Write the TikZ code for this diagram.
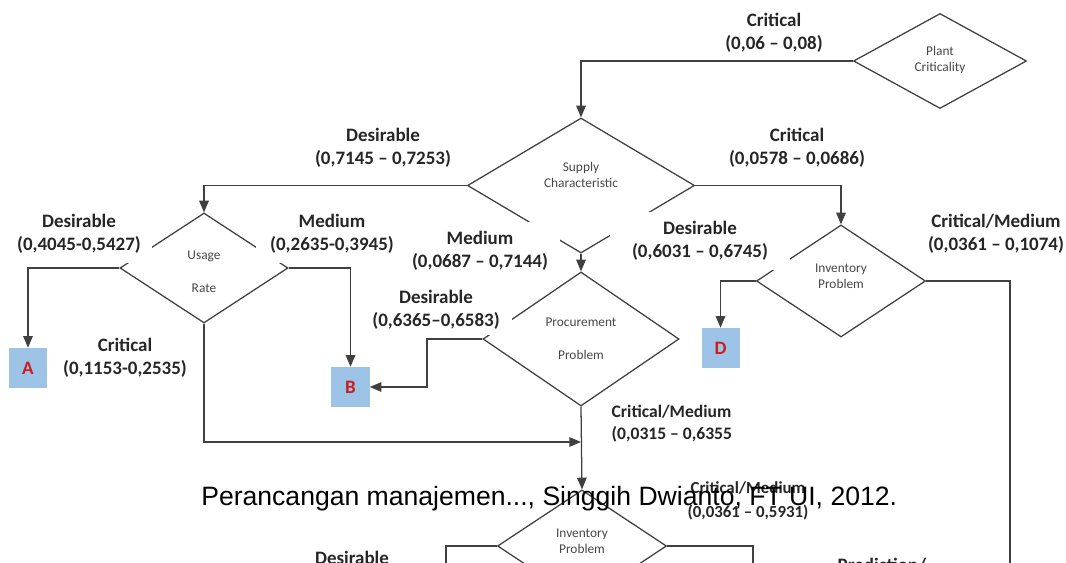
\documentclass[tikz,border=0pt]{standalone}
\usepackage{fontspec}
\setmainfont{Carlito}
\newfontfamily\footfont{Liberation Sans}
\usetikzlibrary{arrows,shapes.geometric}

\definecolor{linegray}{RGB}{64,64,64}
\definecolor{txtgray}{RGB}{38,38,38}
\definecolor{boxblue}{RGB}{157,195,230}
\definecolor{classred}{RGB}{200,30,30}

\begin{document}
\begin{tikzpicture}[x=0.025cm,y=-0.025cm,>=triangle 45,
  decision/.style={diamond,draw=linegray,line width=0.9pt,inner sep=0pt},
  dtext/.style={align=center,text=black!72,font=\fontsize{9.5}{11.5}\selectfont},
  rangetxt/.style={fill=white,inner sep=1pt,align=center,text=txtgray,font=\fontsize{13.5}{16.5}\selectfont\bfseries},
  classbox/.style={fill=boxblue,minimum width=0.95cm,minimum height=1cm,inner sep=0pt,text=classred,font=\fontsize{13.5}{16}\selectfont\bfseries},
  flow/.style={draw=linegray,line width=0.9pt}]
\useasboundingbox (0,0) rectangle (1066,563);

% decisions
\node[decision,minimum width=4.325cm,minimum height=2.375cm] (plant) at (940,61) {};
\node[decision,minimum width=5.675cm,minimum height=3.375cm] (supply) at (581,185.5) {};
\node[decision,minimum width=4.2cm,minimum height=2.75cm] (usage) at (204,268) {};
\node[decision,minimum width=4.9cm,minimum height=3.35cm] (proc) at (581,339) {};
\node[decision,minimum width=4.225cm,minimum height=2.8cm] (inv) at (841,281) {};
\node[decision,minimum width=4.225cm,minimum height=2.8cm] (invb) at (582,546) {};

\node[dtext] (planttxt) at (940,60) {Plant\\Criticality};
\node[dtext] (supplytxt) at (581,175) {Supply\\Characteristic};
\node[dtext] (usagetxt) at (204,271.5) {Usage\\[12pt]Rate};
\node[dtext] (proctxt) at (581,338.5) {Procurement\\[12pt]Problem};
\node[dtext] (invtxt) at (841,276) {Inventory\\Problem};
\node[dtext] (invbtxt) at (582,541.5) {Inventory\\Problem};

% classes
\node[classbox] (boxA) at (28,368) {A};
\node[classbox] (boxB) at (350.5,387) {B};
\node[classbox] (boxD) at (720.5,348) {D};

% connectors
\coordinate (bturn) at (427,339);
\coordinate (join) at (581,442);
\coordinate (critdown) at (1010,600);
\coordinate (desdown) at (446,600);
\coordinate (preddown) at (753,600);

\draw[flow,->] (plant.west) -| (supply.north);
\draw[flow,->] (supply.west) -| (usage.north);
\draw[flow,->] (supply.east) -| (inv.north);
\draw[flow,->] (supply.south) -- (proc.north);
\draw[flow,->] (usage.west) -| (boxA.north);
\draw[flow,->] (usage.east) -| (boxB.north);
\draw[flow,->] (proc.west) -- (bturn) |- (boxB.east);
\draw[flow,->] (usage.south) |- (join);
\draw[flow,->] (proc.south) -- (invb.north);
\draw[flow,->] (inv.west) -| (boxD.north);
\draw[flow] (inv.east) -| (critdown);
\draw[flow] (invb.west) -| (desdown);
\draw[flow] (invb.east) -| (preddown);

% ranges
\node[rangetxt] (plantcrit) at (774,33) {Critical\\(0,06 -- 0,08)};
\node[rangetxt] (supdes) at (383,148) {Desirable\\(0,7145 -- 0,7253)};
\node[rangetxt] (supcrit) at (797,148) {Critical\\(0,0578 -- 0,0686)};
\node[rangetxt,minimum width=4cm,minimum height=1.45cm] (supmed) at (480,251) {Medium\\(0,0687 -- 0,7144)};
\node[rangetxt,minimum width=4.5cm,minimum height=1.45cm] (supdesb) at (700,241) {Desirable\\(0,6031 -- 0,6745)};
\node[rangetxt,minimum width=3.65cm,minimum height=1.45cm] (usgdes) at (79,234) {Desirable\\(0,4045-0,5427)};
\node[rangetxt,minimum width=3.8cm,minimum height=1.45cm] (usgmed) at (332,234) {Medium\\(0,2635-0,3945)};
\node[rangetxt] (usgcrit) at (125,358) {Critical\\(0,1153-0,2535)};
\node[rangetxt,minimum width=3.8cm,minimum height=1.25cm] (procdes) at (436,310) {Desirable\\(0,6365--0,6583)};
\node[rangetxt] (invcrit) at (996,234) {Critical/Medium\\(0,0361 -- 0,1074)};
\node[rangetxt,align=left,anchor=west,font=\fontsize{12.5}{15.5}\selectfont\bfseries] (proccrit) at (610,424) {Critical/Medium\\(0,0315 -- 0,6355};
\node[rangetxt,font=\fontsize{12}{17}\selectfont\bfseries] (invbcrit) at (748,501) {Critical/Medium\\(0,0361 -- 0,5931)};
\node[rangetxt,anchor=base] (invbdes) at (352,564) {Desirable};
\node[rangetxt,anchor=base west] (invbpred) at (836,571) {Prediction/};

% footer
\node[anchor=base west,inner sep=0pt,font=\footfont\fontsize{18.9}{22}\selectfont] (footer) at (201,505) {Perancangan manajemen..., Singgih Dwianto, FT UI, 2012.};

\end{tikzpicture}
\end{document}
